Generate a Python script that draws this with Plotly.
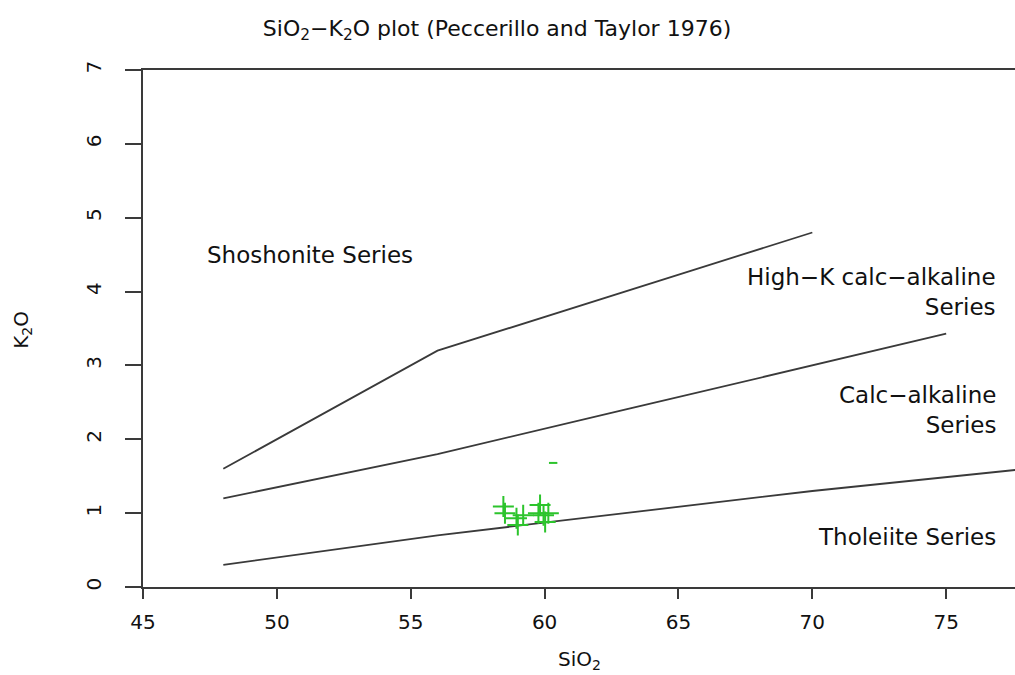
import plotly.graph_objects as go

# Boundary lines (Peccerillo & Taylor 1976)
shosh_x = [48, 56, 70]
shosh_y = [1.6, 3.2, 4.8]
highk_x = [48, 52, 56, 63, 70, 75]
highk_y = [1.2, 1.5, 1.8, 2.4, 3.0, 3.43]
thol_x = [48, 52, 56, 63, 70, 78]
thol_y = [0.3, 0.5, 0.7, 1.0, 1.3, 1.6]

# Samples
sio2 = [58.46, 58.52, 58.95, 59.0, 59.2, 59.83, 59.77, 59.96, 60.02, 60.14]
k2o = [1.09, 1.0, 0.93, 0.84, 0.97, 1.11, 1.0, 0.97, 0.88, 1.0]
stray_x = [60.32]
stray_y = [1.68]

x_ticks = [45, 50, 55, 60, 65, 70, 75]
y_ticks = [0, 1, 2, 3, 4, 5, 6, 7]

labels = ["Shoshonite Series", "High−K calc−alkaline<br>Series", "Calc−alkaline<br>Series", "Tholeiite Series"]
label_x = [51.25, 76.95, 76.95, 76.95]
label_y = [4.5, 4.0, 2.4, 0.68]
label_anchor = ["center", "right", "right", "right"]

FONT = "DejaVu Sans"
LINE = "#3a3a3a"
GREEN = "#2cc42c"

fig = go.Figure()
for xs, ys in [(shosh_x, shosh_y), (highk_x, highk_y), (thol_x, thol_y)]:
    fig.add_trace(go.Scatter(x=xs, y=ys, mode="lines", line=dict(color=LINE, width=1.8),
                             showlegend=False, hoverinfo="skip"))
fig.add_trace(go.Scatter(x=sio2, y=k2o, mode="markers",
                         marker=dict(symbol="cross-thin", size=15, line=dict(color=GREEN, width=2)),
                         showlegend=False))
fig.add_trace(go.Scatter(x=stray_x, y=stray_y, mode="markers",
                         marker=dict(symbol="line-ew", size=6, line=dict(color=GREEN, width=2)),
                         showlegend=False))

for t, xv, yv, a in zip(labels, label_x, label_y, label_anchor):
    fig.add_annotation(x=xv, y=yv, text=t, showarrow=False, xanchor=a, yanchor="middle",
                       align="right" if a == "right" else "center",
                       font=dict(family=FONT, size=23, color="#111"))

fig.add_annotation(xref="paper", yref="paper", x=0.501, y=-0.141, text="SiO<sub>2</sub>",
                   showarrow=False, xanchor="center", yanchor="middle",
                   font=dict(family=FONT, size=20, color="#111"))
fig.add_annotation(xref="paper", yref="paper", x=-0.139, y=0.497, text="K<sub>2</sub>O",
                   showarrow=False, xanchor="center", yanchor="middle", textangle=-90,
                   font=dict(family=FONT, size=20, color="#111"))

fig.update_layout(
    width=1015, height=675,
    margin=dict(l=143, r=0, t=70, b=88),
    paper_bgcolor="white", plot_bgcolor="white",
    title=dict(text="SiO<sub>2</sub>−K<sub>2</sub>O plot (Peccerillo and Taylor 1976)",
               x=0.406, xref="paper", xanchor="center", y=1 - 28 / 675, yref="container",
               yanchor="middle", font=dict(family=FONT, size=22, color="#111")),
    xaxis=dict(range=[45, 77.57], tickvals=x_ticks, ticks="outside", ticklen=10, tickwidth=2,
               tickcolor=LINE, showline=True, linecolor=LINE, linewidth=2, mirror=True,
               showgrid=False, zeroline=False, ticklabelstandoff=6,
               tickfont=dict(family=FONT, size=20, color="#111")),
    yaxis=dict(range=[0, 7], tickvals=y_ticks, ticks="outside", ticklen=16, tickwidth=2,
               tickcolor=LINE, showline=True, linecolor=LINE, linewidth=2, mirror=False,
               showgrid=False, zeroline=False, tickangle=-90, ticklabelstandoff=16,
               tickfont=dict(family=FONT, size=20, color="#111")),
)

fig.write_html(
    "out.html",
    config={"displayModeBar": False},
    post_script="document.body.style.margin='0';document.body.style.overflow='hidden';",
)
